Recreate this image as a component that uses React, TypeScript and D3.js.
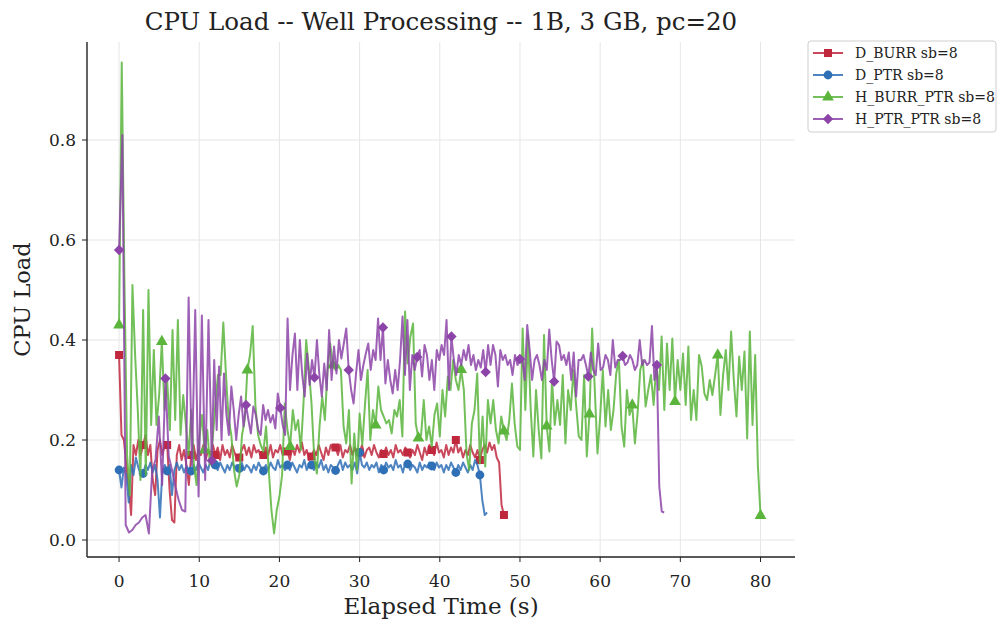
import * as d3 from "d3";

const W = 1000;
const H = 624;
const plot = { left: 87, right: 795, top: 42, bottom: 557 };

const seriesNames = ["D_BURR sb=8", "D_PTR sb=8", "H_BURR_PTR sb=8", "H_PTR_PTR sb=8"];
const seriesColors = ["#c0283e", "#2f6fb6", "#5bb53d", "#8c44a8"];
const markerKinds = ["square", "circle", "triangle", "diamond"];
const markEvery = [10, 10, 16, 14];

const xTicks = [0, 10, 20, 30, 40, 50, 60, 70, 80];
const yTicks = [0, 0.2, 0.4, 0.6, 0.8];

// CPU load samples, one list per run
const dBurrLoad = [
  0.37, 0.21, 0.2, 0.15, 0.11, 0.05, 0.19, 0.17, 0.2, 0.17,
  0.19, 0.21, 0.17, 0.19, 0.12, 0.09, 0.18, 0.2, 0.17, 0.19,
  0.19, 0.1, 0.04, 0.035, 0.17, 0.19, 0.16, 0.18, 0.15, 0.11,
  0.17, 0.19, 0.16, 0.18, 0.17, 0.19, 0.16, 0.18, 0.17, 0.19,
  0.17, 0.185, 0.16, 0.19, 0.17, 0.18, 0.165, 0.19, 0.175, 0.16,
  0.165, 0.18, 0.19, 0.17, 0.185, 0.165, 0.19, 0.175, 0.18, 0.165,
  0.17, 0.185, 0.17, 0.19, 0.165, 0.18, 0.175, 0.19, 0.17, 0.18,
  0.177, 0.16, 0.185, 0.17, 0.19, 0.175, 0.195, 0.17, 0.18, 0.16,
  0.167, 0.18, 0.17, 0.19, 0.175, 0.16, 0.185, 0.17, 0.19, 0.18,
  0.185, 0.17, 0.19, 0.165, 0.18, 0.175, 0.19, 0.17, 0.185, 0.17,
  0.175, 0.19, 0.165, 0.18, 0.185, 0.17, 0.19, 0.175, 0.165, 0.18,
  0.172, 0.185, 0.17, 0.18, 0.165, 0.19, 0.175, 0.18, 0.17, 0.185,
  0.175, 0.165, 0.18, 0.17, 0.19, 0.175, 0.16, 0.185, 0.17, 0.19,
  0.18, 0.17, 0.195, 0.175, 0.18, 0.165, 0.19, 0.17, 0.185, 0.175,
  0.2, 0.175, 0.185, 0.165, 0.18, 0.17, 0.19, 0.175, 0.165, 0.18,
  0.16, 0.18, 0.19, 0.175, 0.195, 0.18, 0.19, 0.165, 0.155, 0.07,
  0.05,
];

const dPtrLoad = [
  0.14, 0.105, 0.145, 0.13, 0.075, 0.15, 0.13, 0.165, 0.145, 0.13,
  0.133, 0.15, 0.14, 0.155, 0.135, 0.15, 0.12, 0.045, 0.14, 0.15,
  0.138, 0.15, 0.09, 0.14, 0.155, 0.14, 0.15, 0.135, 0.148, 0.14,
  0.138, 0.15, 0.14, 0.155, 0.145, 0.135, 0.15, 0.14, 0.16, 0.145,
  0.15, 0.14, 0.155, 0.145, 0.135, 0.15, 0.14, 0.155, 0.145, 0.15,
  0.143, 0.155, 0.14, 0.15, 0.145, 0.135, 0.15, 0.14, 0.155, 0.145,
  0.138, 0.15, 0.14, 0.155, 0.145, 0.14, 0.16, 0.145, 0.15, 0.14,
  0.15, 0.14, 0.155, 0.145, 0.135, 0.15, 0.145, 0.16, 0.14, 0.15,
  0.15, 0.14, 0.155, 0.145, 0.16, 0.14, 0.15, 0.135, 0.15, 0.145,
  0.139, 0.15, 0.16, 0.14, 0.155, 0.145, 0.15, 0.14, 0.155, 0.133,
  0.175, 0.15, 0.145, 0.155, 0.14, 0.15, 0.145, 0.155, 0.135, 0.15,
  0.14, 0.155, 0.145, 0.15, 0.14, 0.16, 0.145, 0.15, 0.135, 0.155,
  0.152, 0.14, 0.15, 0.145, 0.135, 0.155, 0.14, 0.15, 0.145, 0.155,
  0.148, 0.14, 0.155, 0.145, 0.15, 0.135, 0.15, 0.14, 0.155, 0.145,
  0.135, 0.15, 0.14, 0.155, 0.145, 0.135, 0.15, 0.14, 0.16, 0.15,
  0.13, 0.08, 0.05, 0.055,
];

// three samples per second
const hBurrPtrLoad = [
  0.43, 0.955, 0.52, 0.17, 0.09, 0.51, 0.37, 0.26, 0.12,
  0.46, 0.13, 0.5, 0.23, 0.38, 0.23, 0.29, 0.397, 0.26,
  0.32, 0.22, 0.42, 0.24, 0.44, 0.21, 0.29, 0.23, 0.17,
  0.26, 0.15, 0.11, 0.2, 0.25, 0.18, 0.22, 0.15, 0.2,
  0.27, 0.33, 0.33, 0.435, 0.33, 0.24, 0.21, 0.14, 0.107,
  0.13, 0.21, 0.24, 0.34, 0.37, 0.428, 0.27, 0.21, 0.19,
  0.177, 0.227, 0.14, 0.06, 0.013, 0.06, 0.087, 0.13, 0.273,
  0.22, 0.187, 0.26, 0.22, 0.24, 0.18, 0.273, 0.4, 0.343,
  0.273, 0.167, 0.133, 0.227, 0.287, 0.24, 0.34, 0.393, 0.35,
  0.34, 0.35, 0.34, 0.227, 0.193, 0.26, 0.113, 0.213, 0.14,
  0.253, 0.19, 0.27, 0.34, 0.2, 0.26, 0.23, 0.307, 0.26,
  0.247, 0.233, 0.24, 0.213, 0.26, 0.247, 0.28, 0.207, 0.457,
  0.353, 0.407, 0.433, 0.233, 0.204, 0.21, 0.28, 0.2, 0.227,
  0.187, 0.25, 0.273, 0.207, 0.3, 0.247, 0.327, 0.3, 0.36,
  0.32, 0.3, 0.341, 0.3, 0.173, 0.14, 0.233, 0.26, 0.333,
  0.153, 0.247, 0.147, 0.28, 0.233, 0.28, 0.22, 0.193, 0.247,
  0.218, 0.2, 0.24, 0.313, 0.233, 0.187, 0.18, 0.423, 0.26,
  0.41, 0.263, 0.167, 0.3, 0.22, 0.163, 0.41, 0.228, 0.177,
  0.32, 0.23, 0.28, 0.23, 0.33, 0.193, 0.3, 0.26, 0.34,
  0.27, 0.207, 0.2, 0.33, 0.167, 0.252, 0.423, 0.3, 0.173,
  0.247, 0.34, 0.227, 0.3, 0.22, 0.26, 0.333, 0.36, 0.227,
  0.187, 0.3, 0.25, 0.27, 0.193, 0.253, 0.34, 0.36, 0.267,
  0.3, 0.33, 0.27, 0.35, 0.3, 0.407, 0.26, 0.393, 0.3,
  0.403, 0.277, 0.36, 0.3, 0.373, 0.27, 0.387, 0.24, 0.3,
  0.24, 0.37, 0.347, 0.293, 0.28, 0.32, 0.29, 0.33, 0.37,
  0.25, 0.33, 0.38, 0.3, 0.417, 0.32, 0.247, 0.367, 0.3,
  0.377, 0.203, 0.417, 0.23, 0.37, 0.15, 0.049,
];

const hPtrPtrLoad = [
  0.58, 0.81, 0.03, 0.015, 0.02, 0.03, 0.035, 0.045, 0.05, 0.013,
  0.14, 0.16, 0.247, 0.11, 0.323, 0.167, 0.14, 0.107, 0.08, 0.06,
  0.057, 0.485, 0.15, 0.46, 0.087, 0.449, 0.12, 0.44, 0.159, 0.36,
  0.22, 0.347, 0.2, 0.333, 0.25, 0.21, 0.307, 0.26, 0.2, 0.25,
  0.287, 0.227, 0.27, 0.24, 0.213, 0.267, 0.25, 0.22, 0.21, 0.27,
  0.24, 0.26, 0.235, 0.25, 0.223, 0.293, 0.264, 0.23, 0.21, 0.443,
  0.3, 0.37, 0.413, 0.3, 0.4, 0.33, 0.287, 0.373, 0.31, 0.36,
  0.325, 0.4, 0.33, 0.287, 0.353, 0.3, 0.42, 0.32, 0.387, 0.333,
  0.4, 0.363, 0.393, 0.423, 0.34, 0.3, 0.273, 0.333, 0.38, 0.32,
  0.35, 0.373, 0.393, 0.34, 0.38, 0.36, 0.443, 0.36, 0.425, 0.313,
  0.36, 0.32, 0.293, 0.34, 0.3, 0.36, 0.447, 0.33, 0.44, 0.3,
  0.37, 0.34, 0.366, 0.38, 0.327, 0.39, 0.37, 0.32, 0.36, 0.3,
  0.38, 0.36, 0.39, 0.37, 0.44, 0.3, 0.407, 0.36, 0.33, 0.37,
  0.35, 0.38, 0.36, 0.39, 0.35, 0.37, 0.34, 0.36, 0.345, 0.38,
  0.336, 0.39, 0.35, 0.39, 0.37, 0.307, 0.38, 0.36, 0.37, 0.35,
  0.36, 0.33, 0.37, 0.35, 0.362, 0.36, 0.32, 0.43, 0.38, 0.32,
  0.36, 0.37, 0.35, 0.32, 0.36, 0.34, 0.421, 0.36, 0.317, 0.397,
  0.39, 0.36, 0.37, 0.35, 0.375, 0.32, 0.375, 0.287, 0.36, 0.36,
  0.37, 0.35, 0.327, 0.375, 0.34, 0.33, 0.393, 0.34, 0.345, 0.37,
  0.36, 0.33, 0.4, 0.345, 0.36, 0.36, 0.368, 0.35, 0.355, 0.37,
  0.36, 0.34, 0.35, 0.4, 0.35, 0.36, 0.35, 0.355, 0.428, 0.32,
  0.35, 0.107, 0.057, 0.055,
];

// sample times in seconds
const dBurrTime = dBurrLoad.map((_, i) => i * 0.3);
const dPtrTime = dPtrLoad.map((_, i) => i * 0.3);
const hBurrPtrTime = hBurrPtrLoad.map((_, i) => i / 3);
const hPtrPtrTime = hPtrPtrLoad.map((_, i) => (i < 28 ? i * 0.413 : 11.56 + (i - 28) * 0.305));

const allTimes = [dBurrTime, dPtrTime, hBurrPtrTime, hPtrPtrTime];
const allLoads = [dBurrLoad, dPtrLoad, hBurrPtrLoad, hPtrPtrLoad];

const font = "'DejaVu Serif', serif";

function Marker({ kind, x, y, color }) {
  if (kind === "square") {
    return <rect x={x - 4} y={y - 4} width={8} height={8} fill={color} />;
  }
  if (kind === "circle") {
    return <circle cx={x} cy={y} r={4.4} fill={color} />;
  }
  if (kind === "triangle") {
    const p = d3.symbol(d3.symbolTriangle, 60)();
    return <path d={p} transform={`translate(${x},${y})`} fill={color} />;
  }
  const p = d3.symbol(d3.symbolSquare, 54)();
  return <path d={p} transform={`translate(${x},${y}) rotate(45)`} fill={color} />;
}

export default function App() {
  const x = d3.scaleLinear().domain([-4.0, 84.3]).range([plot.left, plot.right]);
  const y = d3.scaleLinear().domain([-0.034, 0.996]).range([plot.bottom, plot.top]);
  const fmt = d3.format(".1f");

  const series = allLoads.map((loads, s) =>
    loads.map((v, i) => ({ t: allTimes[s][i], v }))
  );

  const line = d3
    .line()
    .x((d) => x(d.t))
    .y((d) => y(d.v));

  const midX = (plot.left + plot.right) / 2;
  const midY = (plot.top + plot.bottom) / 2;

  return (
    <svg
      width={W}
      height={H}
      style={{ position: "absolute", left: 0, top: 0, background: "#fff" }}
      fontFamily={font}
    >
      <rect x={0} y={0} width={W} height={H} fill="#fff" />

      {/* grid */}
      {xTicks.map((t) => (
        <line key={"gx" + t} x1={x(t)} x2={x(t)} y1={plot.top} y2={plot.bottom} stroke="#e6e6e6" strokeWidth={1} />
      ))}
      {yTicks.map((t) => (
        <line key={"gy" + t} x1={plot.left} x2={plot.right} y1={y(t)} y2={y(t)} stroke="#e6e6e6" strokeWidth={1} />
      ))}

      {/* series */}
      {series.map((pts, s) => (
        <g key={"s" + s}>
          <path
            d={line(pts)}
            fill="none"
            stroke={seriesColors[s]}
            strokeWidth={2}
            strokeOpacity={0.85}
            strokeLinejoin="round"
          />
          {pts
            .filter((_, i) => i % markEvery[s] === 0)
            .map((d, i) => (
              <Marker key={i} kind={markerKinds[s]} x={x(d.t)} y={y(d.v)} color={seriesColors[s]} />
            ))}
        </g>
      ))}

      {/* spines */}
      <line x1={plot.left} x2={plot.left} y1={plot.top} y2={plot.bottom} stroke="#222" strokeWidth={1.4} />
      <line x1={plot.left} x2={plot.right} y1={plot.bottom} y2={plot.bottom} stroke="#222" strokeWidth={1.4} />

      {/* ticks */}
      {xTicks.map((t) => (
        <g key={"tx" + t}>
          <line x1={x(t)} x2={x(t)} y1={plot.bottom} y2={plot.bottom + 5} stroke="#222" strokeWidth={1} />
          <text x={x(t)} y={plot.bottom + 30} textAnchor="middle" fontSize={17} fill="#222">
            {t}
          </text>
        </g>
      ))}
      {yTicks.map((t) => (
        <g key={"ty" + t}>
          <line x1={plot.left - 5} x2={plot.left} y1={y(t)} y2={y(t)} stroke="#222" strokeWidth={1} />
          <text x={plot.left - 11} y={y(t)} textAnchor="end" dominantBaseline="central" fontSize={17} fill="#222">
            {fmt(t)}
          </text>
        </g>
      ))}

      {/* labels */}
      <text x={midX} y={30} textAnchor="middle" fontSize={24.5} fill="#222">
        CPU Load -- Well Processing -- 1B, 3 GB, pc=20
      </text>
      <text x={midX} y={614} textAnchor="middle" fontSize={23} fill="#222">
        Elapsed Time (s)
      </text>
      <text
        transform={`translate(30,${midY}) rotate(-90)`}
        textAnchor="middle"
        fontSize={22.5}
        fill="#222"
      >
        CPU Load
      </text>

      {/* legend */}
      <rect x={808} y={41} width={188} height={91} rx={3} fill="#fff" fillOpacity={0.8} stroke="#cfcfcf" />
      {seriesNames.map((name, i) => {
        const ly = 53 + i * 22;
        return (
          <g key={"lg" + i}>
            <line x1={813} x2={843} y1={ly} y2={ly} stroke={seriesColors[i]} strokeWidth={2} strokeOpacity={0.85} />
            <Marker kind={markerKinds[i]} x={828} y={ly} color={seriesColors[i]} />
            <text x={855} y={ly} dominantBaseline="central" fontSize={14} fill="#222">
              {name}
            </text>
          </g>
        );
      })}
    </svg>
  );
}
